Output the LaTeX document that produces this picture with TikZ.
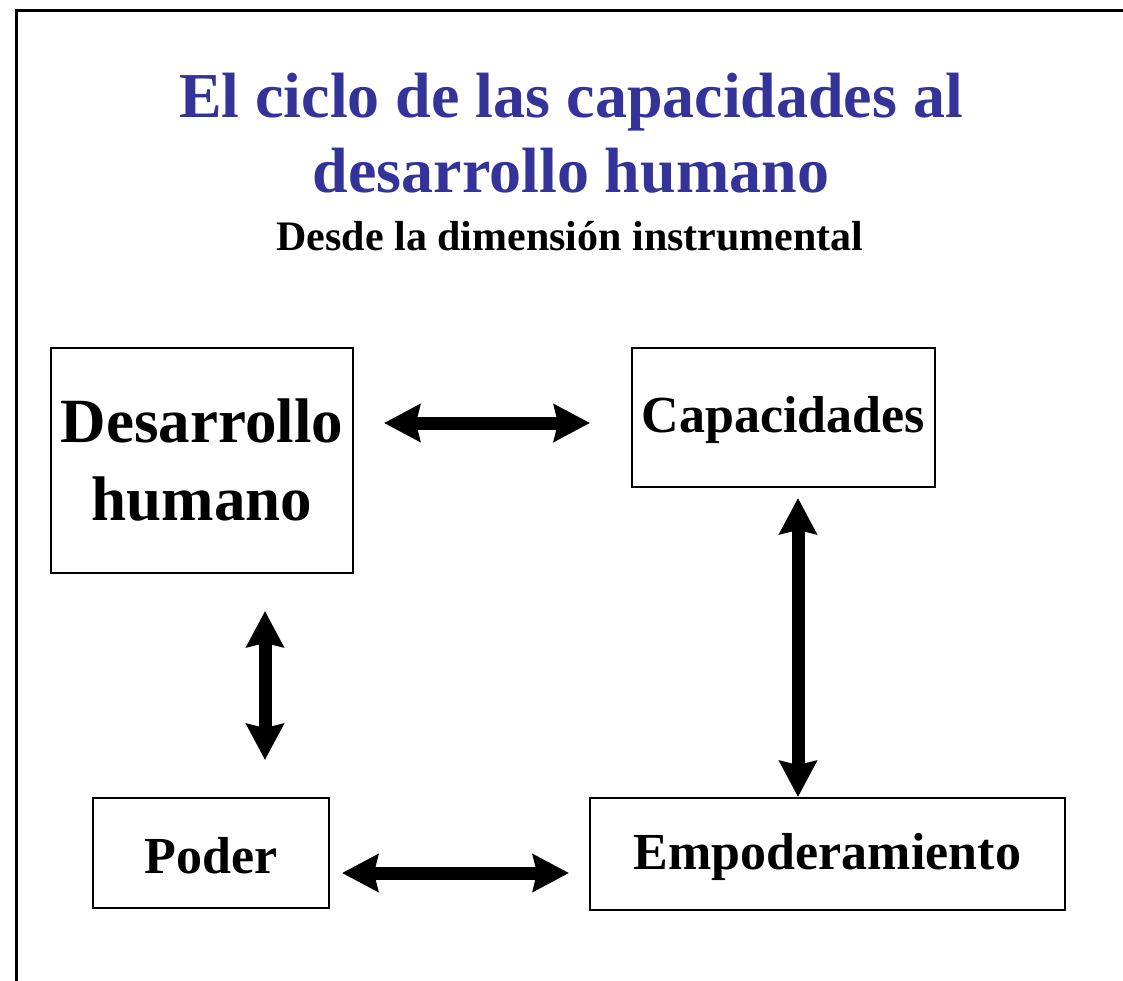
\documentclass[tikz,border=0pt]{standalone}
\usepackage{fontspec}
\setmainfont{Liberation Serif}
\usetikzlibrary{arrows.meta}
\definecolor{titleblue}{RGB}{51,51,153}

\begin{document}
\begin{tikzpicture}[x=1pt, y=-1pt,
  title/.style = {font=\bfseries\fontsize{64}{70}\selectfont, text=titleblue, inner sep=0pt},
  subtitle/.style = {font=\bfseries\fontsize{42}{48}\selectfont, inner sep=0pt},
  box/.style = {shape=rectangle, draw, line width=2pt, align=center,
    font=\bfseries\fontsize{52}{60}\selectfont},
  link/.style = {{Stealth[length=36pt,width=37pt,inset=4pt]}-{Stealth[length=36pt,width=37pt,inset=4pt]},
    line width=13pt}]
  \useasboundingbox (0,0) rectangle (1123,980);
  % frame of the slide
  \draw[line width=3pt] (1140,10) -- (16,10) -- (16,1000);
  % titles
  \node[title, anchor=base] (title1) at (571,117) {El ciclo de las capacidades al};
  \node[title, anchor=base] (title2) at (571,192) {desarrollo humano};
  \node[subtitle, anchor=base] (sub) at (570,250) {Desde la dimensión instrumental};
  % boxes
  \node[box, minimum width=302pt, minimum height=225pt,
    font=\bfseries\fontsize{63}{78}\selectfont] (dh) at (202,460.5) {Desarrollo\\humano};
  \node[box, minimum width=303pt, minimum height=139pt, text height=42pt] (cap) at (783.5,417.5) {Capacidades};
  \node[box, minimum width=236pt, minimum height=110pt, text height=42pt] (poder) at (211,853) {Poder};
  \node[box, minimum width=475pt, minimum height=112pt, text height=42pt] (empo) at (827.5,854) {Empoderamiento};
  % arrow ends
  \coordinate (dhcapA) at (384,423);
  \coordinate (dhcapB) at (590,423);
  \coordinate (dhpoA) at (265,611);
  \coordinate (dhpoB) at (265,760);
  \coordinate (capemA) at (798,498);
  \coordinate (capemB) at (798,797);
  \coordinate (poemA) at (342,873);
  \coordinate (poemB) at (569,873);
  % links
  \draw[link] (dhcapA) -- (dhcapB);
  \draw[link] (dhpoA) -- (dhpoB);
  \draw[link] (capemA) -- (capemB);
  \draw[link] (poemA) -- (poemB);
\end{tikzpicture}
\end{document}
